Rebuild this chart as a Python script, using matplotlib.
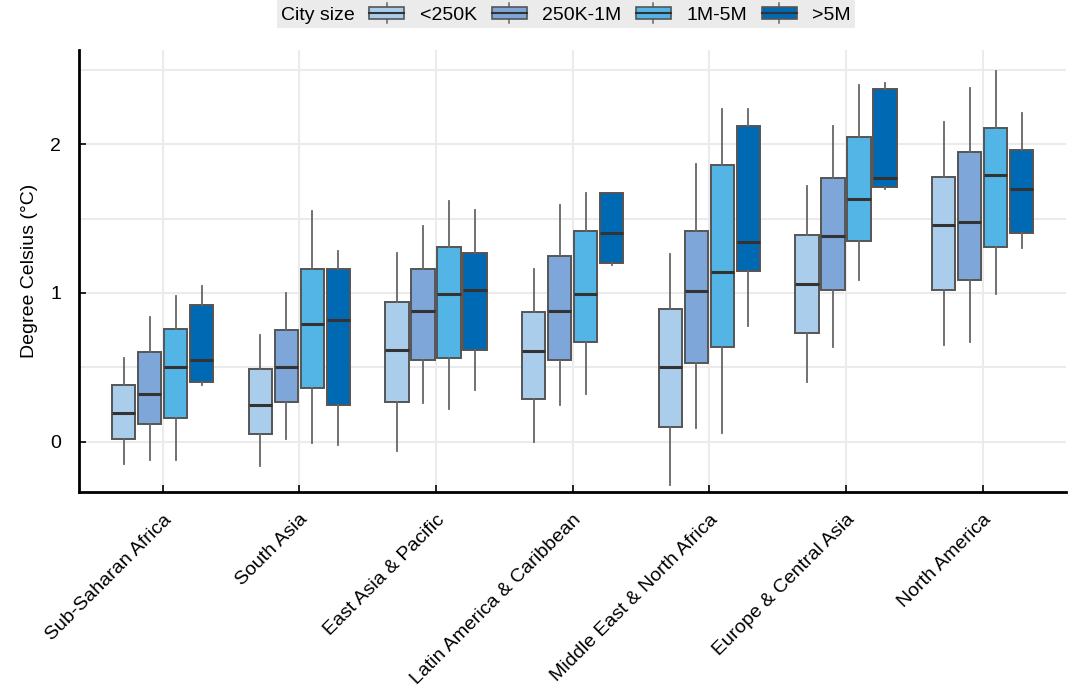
import matplotlib
matplotlib.use('Agg')
import matplotlib.pyplot as plt
from matplotlib.legend_handler import HandlerBase
from matplotlib.patches import Rectangle, Patch
from matplotlib.lines import Line2D
from matplotlib.transforms import ScaledTranslation

plt.rcParams['font.family'] = ['Liberation Sans', 'DejaVu Sans']

regions = ['Sub-Saharan Africa', 'South Asia', 'East Asia & Pacific',
           'Latin America & Caribbean', 'Middle East & North Africa',
           'Europe & Central Asia', 'North America']
sizes = ['<250K', '250K-1M', '1M-5M', '>5M']
colors = ['#abcdec', '#7fa6d8', '#52b5e6', '#0069b4']

# per region: values for the 4 city sizes
whislo = [[-0.15, -0.12, -0.12, 0.38],
          [-0.16, 0.02, -0.01, -0.02],
          [-0.06, 0.26, 0.22, 0.35],
          [0.00, 0.25, 0.32, 1.19],
          [-0.29, 0.09, 0.06, 0.78],
          [0.40, 0.64, 1.09, 1.70],
          [0.65, 0.67, 0.99, 1.30]]
q1 = [[0.02, 0.12, 0.16, 0.40],
      [0.05, 0.27, 0.36, 0.25],
      [0.27, 0.55, 0.56, 0.62],
      [0.29, 0.55, 0.67, 1.20],
      [0.10, 0.53, 0.64, 1.15],
      [0.73, 1.02, 1.35, 1.71],
      [1.02, 1.09, 1.31, 1.40]]
med = [[0.19, 0.32, 0.50, 0.55],
       [0.25, 0.50, 0.79, 0.82],
       [0.62, 0.88, 0.99, 1.02],
       [0.61, 0.88, 0.99, 1.40],
       [0.50, 1.01, 1.14, 1.34],
       [1.06, 1.38, 1.63, 1.77],
       [1.46, 1.48, 1.79, 1.70]]
q3 = [[0.38, 0.60, 0.76, 0.92],
      [0.49, 0.75, 1.16, 1.16],
      [0.94, 1.16, 1.31, 1.27],
      [0.87, 1.25, 1.42, 1.67],
      [0.89, 1.42, 1.86, 2.12],
      [1.39, 1.77, 2.05, 2.37],
      [1.78, 1.95, 2.11, 1.96]]
whishi = [[0.56, 0.84, 0.98, 1.05],
          [0.72, 1.00, 1.55, 1.28],
          [1.27, 1.45, 1.62, 1.56],
          [1.16, 1.59, 1.67, 1.67],
          [1.26, 1.87, 2.24, 2.24],
          [1.72, 2.12, 2.40, 2.41],
          [2.15, 2.38, 2.49, 2.21]]

fig = plt.figure(figsize=(10.69, 6.93), dpi=100)
ax = fig.add_axes([0.0742, 0.2905, 0.923, 0.6374])

step = 0.19
width = 0.17
for j, c in enumerate(colors):
    stats = []
    pos = []
    for i in range(len(regions)):
        stats.append(dict(whislo=whislo[i][j], q1=q1[i][j], med=med[i][j],
                          q3=q3[i][j], whishi=whishi[i][j], fliers=[]))
        pos.append(i + (j - 1.5) * step)
    ax.bxp(stats, positions=pos, widths=width, showcaps=False, showfliers=False,
           patch_artist=True,
           boxprops=dict(facecolor=c, edgecolor='#555555', linewidth=1.4),
           medianprops=dict(color='#333333', linewidth=2.2),
           whiskerprops=dict(color='#666666', linewidth=1.3),
           manage_ticks=False)

ax.set_xlim(-0.61, 6.61)
ax.set_ylim(-0.336, 2.634)
ax.set_xticks(range(len(regions)))
ax.set_xticklabels(regions, rotation=45, ha='right', va='top',
                   rotation_mode='anchor', fontsize=14)
off = ScaledTranslation(8 / 100, 0, fig.dpi_scale_trans)
for lab in ax.get_xticklabels():
    lab.set_transform(lab.get_transform() + off)
ax.set_yticks([0, 1, 2])
ax.set_yticks([0.5, 1.5, 2.5], minor=True)
ax.set_yticklabels(['0', '1', '2'], fontsize=14)
ax.tick_params(axis='x', direction='in', length=5, width=1.2, pad=14)
ax.tick_params(axis='y', which='major', direction='in', length=5, width=1.2, pad=13)
ax.tick_params(axis='y', which='minor', length=0)
ax.grid(True, which='both', axis='y', color='#ebebeb', linewidth=1.5)
ax.grid(True, which='major', axis='x', color='#ebebeb', linewidth=1.5)
ax.set_axisbelow(True)
for s in ['top', 'right']:
    ax.spines[s].set_visible(False)
for s in ['left', 'bottom']:
    ax.spines[s].set_linewidth(2)
    ax.spines[s].set_color('black')
ax.set_ylabel('Degree Celsius (°C)', fontsize=14, labelpad=9)


class BoxHandler(HandlerBase):
    def create_artists(self, legend, orig_handle, xdescent, ydescent,
                       width, height, fontsize, trans):
        fc = orig_handle.get_facecolor()
        x0 = -xdescent
        y0 = -ydescent
        cy = y0 + height / 2
        bh = height * 0.66
        rect = Rectangle((x0, cy - bh / 2), width, bh, facecolor=fc,
                         edgecolor='#555555', lw=1.2, transform=trans)
        m = Line2D([x0, x0 + width], [cy, cy], color='#333333', lw=1.5,
                   transform=trans)
        wt = Line2D([x0 + width / 2] * 2, [cy + bh / 2, cy + height * 0.55],
                    color='#666666', lw=1.1, transform=trans)
        wb = Line2D([x0 + width / 2] * 2, [cy - bh / 2, cy - height * 0.55],
                    color='#666666', lw=1.1, transform=trans)
        return [wt, wb, rect, m]


handles = [Patch(facecolor=c) for c in colors]
leg = fig.legend(handles, sizes, title='City size', ncol=4, loc='upper center',
                 bbox_to_anchor=(566 / 1069, 1.0), frameon=True, fancybox=False,
                 facecolor='#ebebeb', edgecolor='none', framealpha=1,
                 fontsize=14, title_fontsize=14, handlelength=1.8,
                 handleheight=1.05, handletextpad=0.8, columnspacing=0.75,
                 borderpad=0.22, borderaxespad=0.0,
                 handler_map={Patch: BoxHandler()})
vbox = leg.get_children()[0]
title_box = vbox.get_children()[0]
hbox = vbox.get_children()[1]
vbox._children = [hbox]
hbox._children = [title_box] + hbox.get_children()

fig.savefig('out.png', dpi=100)
